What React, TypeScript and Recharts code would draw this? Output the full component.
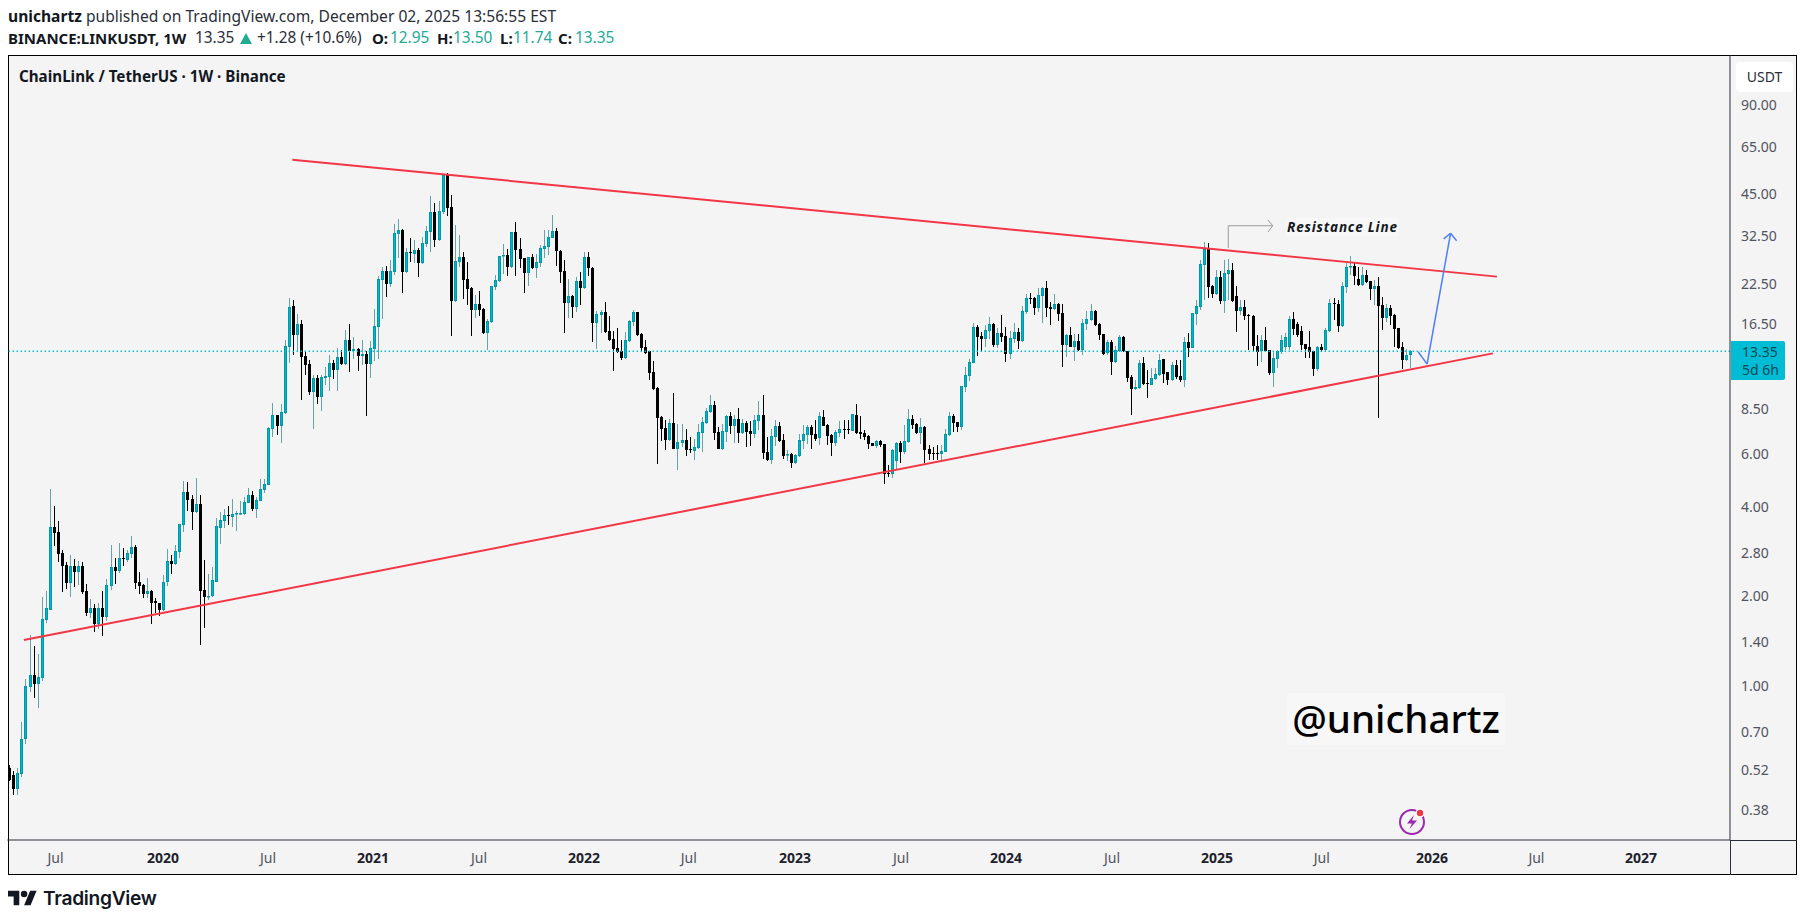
import React from "react";
import { ComposedChart, Bar, XAxis, YAxis, ReferenceLine } from "recharts";

type C = [number, number, number, number];
// weekly candles: open, high, low, close
const candles2019: C[] = [
[.526,.54,.476,.48],[.499,.516,.428,.449],[.449,.526,.428,.506],[.503,.755,.493,.66],[.662,1.052,.635,.996],[.99,1.48,.95,1.085],[1.085,1.36,.91,1.01],[1.01,1.277,.84,1.07],[1.06,1.99,1.04,1.67],[1.66,2.08,1.62,1.82],
[1.8,4.59,1.79,3.42],[3.42,4.02,2.95,3.26],[3.29,3.58,2.6,2.77],[2.79,2.86,2.06,2.52],[2.54,2.6,2.11,2.21],[2.21,2.75,1.98,2.52],[2.52,2.67,2.14,2.41],[2.41,2.63,2.18,2.52],[2.52,2.6,2.03,2.06],[2.08,2.2,1.72,1.76],
[1.76,1.95,1.69,1.83],[1.83,1.88,1.51,1.61],[1.61,1.9,1.55,1.82],[1.82,2.08,1.47,1.7],[1.7,2.28,1.65,2.18],[2.16,2.97,2.09,2.5],[2.5,2.69,2.2,2.43],[2.43,3.02,2.39,2.69],[2.69,2.9,2.52,2.67],[2.65,2.86,2.6,2.79],
[2.77,3.19,2.69,2.93],[2.93,2.97,2.11,2.21],[2.23,2.41,2.03,2.16],[2.18,2.2,1.97,2.04],[2.04,2.31,1.97,2.08],[2.08,2.09,1.61,1.9],[1.92,1.97,1.76,1.89],[1.9,1.9,1.71,1.79],
];
const candles2020: C[] = [
[1.79,2.35,1.78,2.24],[2.23,2.88,2.16,2.63],[2.63,2.75,2.37,2.56],[2.56,2.97,2.55,2.84],[2.81,3.5,2.69,3.5],[3.47,4.88,3.29,4.48],[4.48,4.84,3.87,4.21],[4.24,4.38,3.34,3.84],[3.84,4.99,3.82,4.08],[4.08,4.38,1.37,2.08],
[2.09,2.65,1.56,1.98],[1.98,2.37,1.94,2.01],[2.0,2.5,1.99,2.26],[2.24,3.66,2.23,3.44],[3.39,3.84,3.0,3.61],[3.58,3.93,3.39,3.75],[3.75,4.02,3.47,3.72],[3.69,4.24,3.42,3.78],[3.78,3.87,3.32,3.81],[3.78,4.18,3.76,3.81],
[3.78,4.31,3.76,4.15],[4.12,4.62,4.11,4.38],[4.38,4.52,3.87,3.93],[3.93,4.31,3.66,4.21],[4.18,4.95,4.17,4.59],[4.55,4.95,4.45,4.77],[4.73,7.41,4.72,7.37],[7.31,8.94,6.86,8.14],[8.14,8.16,6.97,7.47],[7.47,8.87,6.55,8.33],
[8.27,14.55,8.2,13.9],[13.8,20.2,12.2,18.8],[19,19.85,12.95,15.1],[15.1,17.85,13.36,16.5],[16.5,17,9.15,12.75],[12.85,13.36,11.1,11.99],[12.08,12.46,9.5,9.73],[9.73,11.1,7.31,10.84],[10.84,11.1,8.87,9.36],[9.36,11.1,8.4,10.93],
[10.84,11.8,10.27,11.0],[10.93,12.95,9.8,12.2],[12.2,12.46,10.75,11.53],[11.53,13.7,9.8,12.75],[12.75,13.47,11.99,12.08],[12.08,15.7,12.0,14.55],[14.55,16.5,11.35,13.36],[13.36,14.9,12.56,13.6],[13.6,13.65,11.44,12.85],[12.85,14.55,11.99,13.05],
[13.05,13.36,8.08,12.08],[12.08,14.45,10.84,13.7],
];
const candles2021: C[] = [
[13.6,18.5,12.36,16.2],[16.1,23.9,12.56,23.4],[23.2,25.6,17.15,24.8],[24.8,25.8,20.3,22.5],[22.5,27.1,21.95,24.8],[24.6,35.8,24.1,33.4],[33.15,37.2,27.5,34.2],[34.2,34.45,20.9,24.6],[24.6,29.7,24.5,28.8],[28.8,32.1,26.65,28.55],
[28.35,31.6,26.4,29.25],[29.25,29.7,23.7,26.4],[26.4,32.4,26.3,30.9],[30.65,35.25,29.95,33.9],[33.65,44.45,28.8,39.3],[39.3,42.15,29.95,31.6],[31.6,42.8,31.35,39.6],[39.3,52.7,38.7,52.3],[52.3,53.2,38.1,40.5],[40.85,44.8,15,19.7],
[19.7,35.5,19.6,26.85],[26.65,32.9,25.6,27.7],[27.7,28.8,20,23.2],[23.4,26.65,19.1,21.6],[21.8,21.95,15,18.4],[18.4,20.6,17.3,19.25],[19.25,21.25,17.55,18.4],[18.55,18.7,15.2,15.35],[15.35,17.15,13.47,16.85],[16.7,22.2,16.6,22.15],
[21.95,24.1,21.4,23.2],[23,28,22.9,27.9],[27.9,30.65,24.3,28.1],[28.1,29.5,23.9,25.6],[25.6,33.7,25.5,33.65],[33.65,36.35,23.9,29.25],[29.5,32.1,25.4,27.3],[27.5,27.6,20.9,24.5],[24.5,27.8,22.15,27.7],[27.7,28.35,25.2,25.4],
[25.4,28.35,23.55,26.65],[26.4,30.4,25.6,29.7],[29.5,34.2,27.5,30.15],[29.95,34.2,28.1,32.4],[32.1,38.4,32,33.9],[33.9,34.7,25.8,29],[29,29.25,22.65,24.6],[24.8,27.1,15.35,19.4],[19.4,23.4,17.3,20.45],[20.45,20.6,17.3,18.8],
[18.8,23.7,18.1,23],[23,24.6,19.1,21.8],
];
const candles2022: C[] = [
[21.8,28.8,21.7,27.7],[27.7,28.8,23.9,25.4],[25.5,25.6,14.3,16.6],[16.6,18.25,13.6,17.85],[17.7,18.4,15.35,18.1],[18.1,19.5,15.4,15.45],[15.6,17.55,14.45,14.55],[14.65,15.6,11.44,13.6],[13.7,15.95,13.2,13.25],[13.36,14.55,12.46,12.65],
[12.65,15.45,12.6,14.55],[14.45,17,14.3,16.85],[16.7,18.4,16.2,18.1],[18.1,18.15,15,15.1],[15.2,15.35,13.36,13.7],[13.8,14.55,13.1,13.15],[13.35,13.36,10.67,11.27],[11.35,12.36,9.88,9.95],[10.03,10.1,5.57,7.95],[8.0,8.05,6.66,7.31],
[7.37,7.83,6.21,6.71],[6.71,7.89,6.68,7.65],[7.65,9.65,6.24,6.26],[6.26,7.59,5.32,6.6],[6.55,7.59,6.35,6.71],[6.71,7.31,5.93,6.21],[6.26,6.86,6.07,6.21],[6.16,6.76,5.75,6.35],[6.3,7.59,6.28,7.14],[7.08,8.0,6.11,7.7],
[7.65,8.6,7.62,8.4],[8.33,9.5,8.27,8.8],[8.8,9.08,6.71,7.08],[7.14,7.41,6.24,6.26],[6.26,7.59,6.21,7.2],[7.14,8.14,6.6,8.08],[8.08,8.33,7.03,7.47],[7.47,8.14,6.55,7.89],[7.89,8.6,6.55,7.08],[7.08,7.89,7.05,7.65],
[7.65,7.77,6.35,7.14],[7.2,7.77,6.4,7.03],[7.03,8.14,6.82,7.83],[7.77,9.08,7.25,8.14],[8.14,9.5,5.8,6.07],[6.11,6.86,5.7,5.75],[5.75,7.31,5.57,6.92],[6.86,7.83,6.4,7.47],[7.47,7.7,6.62,6.66],[6.71,7.03,5.8,5.93],
[5.97,6.21,5.7,6.01],[6.01,6.07,5.4,5.62],
];
const candles2023: C[] = [
[5.62,6.01,5.57,5.97],[5.93,7.03,5.9,6.71],[6.66,7.53,6.26,7.03],[6.97,7.53,6.5,7.41],[7.41,7.53,6.26,6.97],[7.03,7.83,6.66,6.76],[6.82,8.33,6.45,8.08],[8.0,8.46,7.45,7.47],[7.53,7.59,6.45,6.92],[6.97,7.03,5.93,6.55],
[6.55,7.25,6.4,7.14],[7.08,7.77,6.86,7.31],[7.31,7.83,6.76,7.25],[7.31,7.83,7.03,7.25],[7.2,8.2,7.18,8.2],[8.14,8.87,7.03,7.08],[7.14,8.08,6.76,7.03],[7.08,7.25,6.71,6.86],[6.92,6.95,6.26,6.5],[6.55,6.58,6.38,6.4],
[6.4,6.71,6.3,6.66],[6.66,6.71,6.35,6.45],[6.5,6.52,4.77,5.15],[5.19,5.53,5.03,5.15],[5.15,6.25,5.0,6.21],[5.7,6.6,5.32,6.55],[6.55,6.66,5.62,6.11],[6.11,7.53,6.01,6.66],[6.6,8.53,6.58,7.89],[7.89,8.14,7.31,7.53],
[7.59,7.65,7.03,7.08],[7.08,7.95,6.5,7.41],[7.41,7.45,5.62,6.21],[6.26,6.45,5.75,6.01],[6.07,6.35,5.75,6.01],[6.07,6.45,5.75,6.01],[6.01,6.45,5.75,6.16],[6.11,7.31,6.09,7.03],[6.97,8.33,6.92,8.08],[8.08,8.2,7.14,7.65],
[7.7,7.72,7.14,7.41],[7.41,10.2,7.25,10.2],[10.1,11.8,9.73,11.1],[11.0,12.56,10.6,12.27],[12.2,16.6,12.15,16.1],[16.1,16.35,12.85,14.85],[15,15.45,13.36,14.65],[14.65,16.35,13.8,15.7],[15.6,17.4,14.65,16.5],[16.5,16.6,13.8,14],
[14,15.95,13.7,15.35],[15.35,17.7,14.3,14.85],
];
const candles2024: C[] = [
[15,16.1,12.25,13.05],[13.05,15.6,12.56,14.75],[14.65,16.6,14.2,15.45],[15.45,15.95,13.6,14.45],[14.45,18.95,14.3,18.25],[18.1,20.8,17.85,20.2],[20.2,20.95,19.25,20],[20.2,20.3,17.7,18.7],[18.7,21.8,18.1,20.6],[20.45,21.95,16.6,21.8],
[21.8,23,17.4,18.7],[18.8,19.6,16.35,18.55],[18.55,20.8,18.4,19.25],[19.25,19.4,16.85,17.85],[17.95,19.25,11.8,14],[14,15.2,12.75,15.1],[15.1,16.1,13.75,13.8],[13.8,15.2,12.36,14.45],[14.45,15.2,13.4,13.47],[13.47,17.15,12.95,16.6],
[16.5,18.25,15.7,17.15],[17,19.25,16.9,18.25],[18.25,18.4,16.2,16.35],[16.5,16.55,14.55,15.1],[15.2,15.25,12.95,13.05],[13.15,14.55,12.95,14.3],[14.3,14.55,11.1,12.27],[12.27,13.9,12.2,13.47],[13.36,15.1,13.3,14.85],[14.85,15,13.25,13.36],
[13.36,13.4,10.5,10.84],[10.93,11.1,8.14,9.95],[9.95,10.67,9.9,10.1],[10.03,12.46,9.95,12.2],[12.2,12.75,10.27,10.35],[10.43,11.53,9.28,10.35],[10.27,11.7,10.25,10.84],[10.75,11.7,10.7,11.2],[11.1,13.05,11.05,12.46],[12.56,12.6,10.43,11.2],
[11.35,11.4,10.27,10.67],[10.67,12.27,10.6,11.99],[11.99,12.46,10.75,10.93],[11,12.46,10.5,10.67],[10.67,14.85,10.1,14.3],[14.3,15.35,12.75,13.7],[13.7,18,13.65,17.95],[17.85,19.85,16.35,19],[18.8,27.1,18.4,26.2],[26,31.1,19.85,29.5],
[29.5,30.9,20.15,21.95],[22.15,22.3,20.15,20.8],
];
const candles2025: C[] = [
[20.8,25,20.6,23.7],[23.7,24.8,19.25,19.7],[19.7,27.1,17.95,24.5],[24.3,27.3,19.85,25],[25,26.4,19.6,19.7],[20.45,22.15,15.45,18.25],[18.25,19.85,17.7,18.8],[18.8,19.85,17,17.55],[17.7,17.75,13.47,17.55],[17.55,17.7,13.25,13.9],
[13.9,15.1,11.9,13.25],[13.36,15.1,12.27,14.55],[14.55,16.1,13.25,13.36],[13.47,13.5,11.1,11.27],[11.27,13.36,10.1,12.65],[12.56,13.47,11.7,13.36],[13.25,15.1,13.05,14.55],[13.8,15.35,13.47,14.85],[13.8,17.55,13.47,17.15],[17.15,18.1,15.1,15.85],
[16.5,16.7,14.85,15.1],[15.6,16.2,13.47,14],[14.1,14.15,12.65,13.6],[13.8,15.6,12.65,13.25],[13.36,13.4,11,11.6],[11.6,13.9,11.44,13.8],[13.8,14.1,13.36,13.47],[13.47,15.95,13.4,15.7],[15.6,20,15.45,19.4],[19.4,20.15,17,19.25],
[19.25,19.85,15.45,16.2],[16.2,22.8,16.15,22.15],[21.95,26.4,20.9,25.6],[25.6,27.9,24.1,25.8],[25.8,26.65,22.3,23.9],[23.4,25.6,22.15,22.3],[22.3,25.6,22.15,24.1],[24.1,25,22.7,22.8],[23,23.05,19.85,21.6],[21.6,23.2,19.1,22.15],
[22.15,23.7,7.95,18.95],[19.1,20.3,15.7,17.3],[17.3,19.25,16.7,18.7],[18.7,19.1,16.35,17.55],[17.7,17.75,13.8,15.85],[15.95,16,13.6,13.7],[13.8,14.3,11.6,12.46],[12.46,13.6,12.36,12.95],[12.95,13.5,11.74,13.35],
];

const priceTicks = [90, 65, 45, 32.5, 22.5, 16.5, 8.5, 6, 4, 2.8, 2, 1.4, 1, 0.7, 0.52, 0.38];
const timeTickIndex = [11.4, 37.95, 63.9, 89.8, 116, 141.9, 167.8, 194, 220.2, 246.1, 272.3, 298.2, 324.1, 351.3, 377.1, 402.9];
const timeTickLabels = ["Jul", "2020", "Jul", "2021", "Jul", "2022", "Jul", "2023", "Jul", "2024", "Jul", "2025", "Jul", "2026", "Jul", "2027"];
const lastPrice = 13.35;

type Pt = { x: number; y: number };
const resistanceLine: Pt[] = [{ x: 69.9, y: 58.9 }, { x: 367.35, y: 23.8 }];
const supportLine: Pt[] = [{ x: 3.6, y: 1.423 }, { x: 366.35, y: 13.13 }];
const blueArrow: Pt[] = [{ x: 347.9, y: 13.3 }, { x: 350.1, y: 12.08 }, { x: 355.9, y: 33.3 }];
const blueHeadA: Pt[] = [{ x: 354.2, y: 31.9 }, { x: 355.9, y: 33.3 }];
const blueHeadB: Pt[] = [{ x: 357.4, y: 31.45 }, { x: 355.9, y: 33.3 }];
const grayArrow: Pt[] = [{ x: 301, y: 29.7 }, { x: 301, y: 35.3 }, { x: 312, y: 35.3 }];
const grayHeadA: Pt[] = [{ x: 310.8, y: 36.9 }, { x: 312, y: 35.3 }];
const grayHeadB: Pt[] = [{ x: 310.8, y: 33.65 }, { x: 312, y: 35.3 }];

const rows = [...candles2019, ...candles2020, ...candles2021, ...candles2022, ...candles2023, ...candles2024, ...candles2025].map((c, i) => ({
  i,
  wick: [c[2], c[1]],
  body: [Math.min(c[0], c[3]), Math.max(c[0], c[3])],
  up: c[3] >= c[0],
}));

const UP = "#00b5cc";
const UP_EDGE = "#0097a7";
const UP_WICK = "#62a4a9";
const DOWN = "#000000";
const FONT = "'Noto Sans', sans-serif";

const Wick = (p: any) => {
  const cx = Math.floor(p.x + p.width / 2);
  const y = Math.round(p.y);
  const h = Math.max(Math.round(p.y + p.height) - y, 1);
  return <rect x={cx} y={y} width={1} height={h} fill={p.payload.up ? UP_WICK : DOWN} />;
};
const Body = (p: any) => {
  const cx = Math.floor(p.x + p.width / 2);
  const y = Math.round(p.y);
  const h = Math.max(Math.round(p.y + p.height) - y, 1);
  if (p.payload.up) {
    return <rect x={cx - 0.5} y={y + 0.5} width={2} height={Math.max(h - 1, 0.5)} fill={UP} stroke={UP_EDGE} strokeWidth={1} />;
  }
  return <rect x={cx - 1} y={y} width={3} height={h} fill={DOWN} />;
};

const TimeTick = (p: any) => {
  const label = timeTickLabels[p.index] ?? "";
  const bold = label !== "Jul";
  return (
    <text x={p.x} y={863} textAnchor="middle" fontFamily={FONT} fontSize={14} fontWeight={bold ? 700 : 400} fill={bold ? "#1e222d" : "#50535e"}>
      {label}
    </text>
  );
};
const PriceTick = (p: any) => (
  <text x={1741} y={p.y + 5} fontFamily={FONT} fontSize={14} fill="#50535e">
    {Number(p.payload.value).toFixed(2)}
  </text>
);

const seg = (pts: Pt[], color: string, width: number, key: string) =>
  pts.slice(1).map((pt, k) => (
    <ReferenceLine key={key + k} xAxisId="body" segment={[pts[k], pt]} stroke={color} strokeWidth={width} ifOverflow="visible" />
  ));

const abs = (l: number, t: number, extra: React.CSSProperties = {}): React.CSSProperties => ({
  position: "absolute",
  left: l,
  top: t,
  whiteSpace: "nowrap",
  fontFamily: FONT,
  ...extra,
});
const TEAL = "#22ab94";
const H2: React.CSSProperties = { fontSize: 15.4, lineHeight: "20px", color: "#2a2e39" };
const H2B: React.CSSProperties = { fontSize: 15, lineHeight: "20px", color: "#131722", fontWeight: 700 };
const H2T: React.CSSProperties = { fontSize: 15.4, lineHeight: "20px", color: TEAL };

export default function App() {
  return (
    <div style={{ position: "absolute", left: 0, top: 0, width: 1806, height: 922, background: "#fff", overflow: "hidden" }}>
      <div style={abs(8, 6, { fontSize: 15.6, lineHeight: "20px", color: "#2a2e39" })}>
        <b style={{ color: "#131722" }}>unichartz</b> published on TradingView.com, December 02, 2025 13:56:55 EST
      </div>
      <div style={abs(8, 28, H2B)}>BINANCE:LINKUSDT, 1W</div>
      <div style={abs(195, 28, H2)}>13.35</div>
      <svg style={{ position: "absolute", left: 240, top: 33 }} width="12" height="11" viewBox="0 0 12 11"><path d="M6 0L12 11H0Z" fill={TEAL} /></svg>
      <div style={abs(257, 28, H2)}>+1.28 (+10.6%)</div>
      <div style={abs(372, 28, H2B)}>O:</div>
      <div style={abs(390, 28, H2T)}>12.95</div>
      <div style={abs(437, 28, H2B)}>H:</div>
      <div style={abs(453, 28, H2T)}>13.50</div>
      <div style={abs(500, 28, H2B)}>L:</div>
      <div style={abs(513, 28, H2T)}>11.74</div>
      <div style={abs(558, 28, H2B)}>C:</div>
      <div style={abs(575, 28, H2T)}>13.35</div>

      <div style={{ position: "absolute", left: 8, top: 55, width: 1789, height: 820, background: "#f4f4f4", boxSizing: "border-box", border: "1px solid #000" }} />
      <div style={{ position: "absolute", left: 1730, top: 840, width: 67, height: 1, background: "#2a2e39" }} />
      <div style={{ position: "absolute", left: 1730, top: 840, width: 1, height: 35, background: "#2a2e39" }} />

      <ComposedChart
        width={1806}
        height={922}
        data={rows}
        barGap={0}
        margin={{ top: 55, right: 0, bottom: 0, left: 7.27 }}
        style={{ position: "absolute", left: 0, top: 0 }}
      >
        <XAxis
          xAxisId="body"
          dataKey="i"
          type="number"
          domain={[-0.5, 424.9]}
          allowDataOverflow
          ticks={timeTickIndex}
          interval={0}
          height={82}
          tick={<TimeTick />}
          tickLine={false}
          axisLine={{ stroke: "#2a2e39", strokeWidth: 1 }}
        />
        <XAxis xAxisId="wick" dataKey="i" type="number" domain={[-0.5, 424.9]} allowDataOverflow hide height={0} />
        <YAxis
          orientation="right"
          scale="log"
          domain={[0.3022, 132.6]}
          allowDataOverflow
          ticks={priceTicks}
          interval={0}
          width={76}
          tick={<PriceTick />}
          tickLine={false}
          axisLine={{ stroke: "#2a2e39", strokeWidth: 1 }}
        />
        <ReferenceLine xAxisId="body" y={lastPrice} stroke="#00bcd4" strokeWidth={1.4} strokeDasharray="1.4 2.6" />
        <Bar xAxisId="wick" dataKey="wick" barSize={1} shape={<Wick />} isAnimationActive={false} />
        <Bar xAxisId="body" dataKey="body" barSize={3} shape={<Body />} isAnimationActive={false} />
        {seg(resistanceLine, "#f23645", 2, "r")}
        {seg(supportLine, "#f23645", 2, "s")}
        {seg(blueArrow, "#4d7ff5", 1.5, "b")}
        {seg(blueHeadA, "#4d7ff5", 1.5, "ba")}
        {seg(blueHeadB, "#4d7ff5", 1.5, "bb")}
        {seg(grayArrow, "#9a9a9a", 1, "g")}
        {seg(grayHeadA, "#9a9a9a", 1, "ga")}
        {seg(grayHeadB, "#9a9a9a", 1, "gb")}
      </ComposedChart>

      <div style={abs(19, 66, { fontSize: 15.2, lineHeight: "20px", fontWeight: 700, color: "#131722" })}>ChainLink / TetherUS · 1W · Binance</div>
      <div style={abs(1286, 218, { fontSize: 13.5, lineHeight: "18px", fontWeight: 700, fontStyle: "italic", color: "#131722", background: "#f7f7f7", padding: "0 1px", letterSpacing: 0.8 })}>Resistance Line</div>
      <div style={abs(1287, 693, { width: 218, height: 52, background: "#f7f7f7", textAlign: "center", fontSize: 38.5, lineHeight: "50px", fontWeight: 500, color: "#000" })}>@unichartz</div>

      <svg style={{ position: "absolute", left: 1396, top: 805 }} width="32" height="32" viewBox="0 0 32 32">
        <circle cx="16" cy="17" r="12" fill="none" stroke="#9c27b0" strokeWidth="2" />
        <path d="M18 10L11 18.5h5L13.5 24 21 15.5h-5z" fill="#9c27b0" />
        <circle cx="24" cy="8" r="4.5" fill="#fff" />
        <circle cx="24" cy="8" r="3.2" fill="#f23645" />
      </svg>

      <div style={{ ...abs(1736, 62), width: 57, height: 30, background: "#fff", borderRadius: 4, textAlign: "center", fontSize: 14, lineHeight: "30px", color: "#2a2e39" }}>USDT</div>
      <div style={{ ...abs(1731, 341), width: 54, height: 39, background: "#00bcd4", borderRadius: "0 2px 2px 0", fontSize: 14, lineHeight: "18px", color: "#064a55", paddingLeft: 11, paddingTop: 2, boxSizing: "border-box" }}>
        13.35<br />5d 6h
      </div>

      <svg style={{ position: "absolute", left: 8, top: 889 }} width="29" height="18" viewBox="0 3 36 20">
        <path d="M14 22H7V11H0V4h14v18zM28 22h-8l7.5-18h8L28 22z" fill="#131722" />
        <circle cx="20" cy="8" r="4" fill="#131722" />
      </svg>
      <div style={abs(43, 883, { fontFamily: "Inter, sans-serif", fontSize: 19.2, lineHeight: "30px", fontWeight: 600, color: "#131722", letterSpacing: -0.3 })}>TradingView</div>
    </div>
  );
}
